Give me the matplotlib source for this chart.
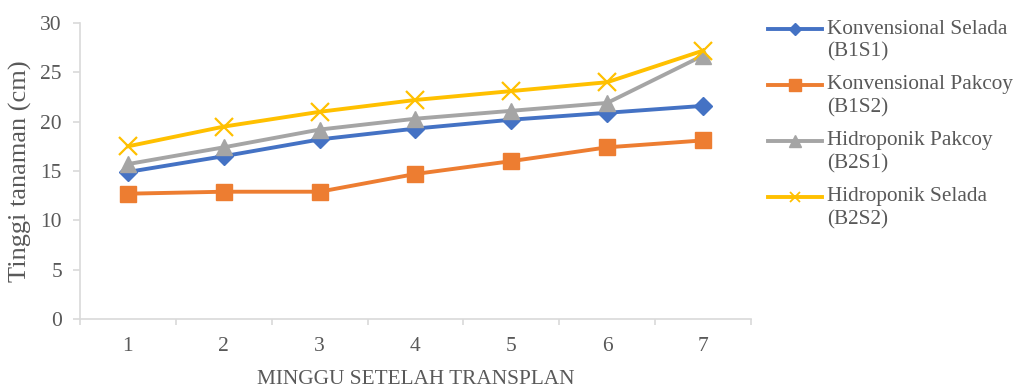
import matplotlib
matplotlib.use("Agg")
import matplotlib.pyplot as plt
from matplotlib.lines import Line2D
from matplotlib.ticker import FixedLocator

plt.rcParams['font.family'] = ['Liberation Serif', 'DejaVu Serif']

weeks = [1, 2, 3, 4, 5, 6, 7]
konvensional_selada = [14.9, 16.5, 18.2, 19.3, 20.2, 20.9, 21.6]
konvensional_pakcoy = [12.7, 12.9, 12.9, 14.7, 16.0, 17.4, 18.1]
hidroponik_pakcoy = [15.7, 17.4, 19.2, 20.3, 21.1, 21.9, 26.7]
hidroponik_selada = [17.5, 19.5, 21.0, 22.2, 23.1, 24.0, 27.2]
series_names = ["Konvensional Selada", "Konvensional Pakcoy",
                "Hidroponik Pakcoy", "Hidroponik Selada"]
series_codes = ["(B1S1)", "(B1S2)", "(B2S1)", "(B2S2)"]
y_ticks = [0, 5, 10, 15, 20, 25, 30]

text_color = "#595959"
axis_color = "#D9D9D9"
W, H = 1014, 392

fig = plt.figure(figsize=(W / 100, H / 100), dpi=100)
ax = fig.add_axes([80 / W, 1 - 319 / H, 671 / W, 296 / H])

styles = [
    dict(color="#4472C4", marker="D", markersize=9),
    dict(color="#ED7D31", marker="s", markersize=11.5),
    dict(color="#A5A5A5", marker="^", markersize=12),
    dict(color="#FFC000", marker="x", markersize=12.5, markeredgewidth=1.6),
]
legend_marker_sizes = [6.5, 8, 8, 7]
data = [konvensional_selada, konvensional_pakcoy, hidroponik_pakcoy, hidroponik_selada]
for vals, st in zip(data, styles):
    ax.plot(weeks, vals, linewidth=2.8, **st)

ax.set_xlim(0.5, 7.5)
ax.set_ylim(0, 30)
ax.set_yticks(y_ticks)
ax.set_xticks(weeks)
ax.xaxis.set_minor_locator(FixedLocator([w - 0.5 for w in weeks] + [7.5]))
ax.tick_params(axis='x', which='major', length=0, pad=13, labelsize=15.5, labelcolor=text_color)
ax.tick_params(axis='x', which='minor', length=4.5, width=1.2, color=axis_color, direction='out')
ax.tick_params(axis='y', which='major', length=5, width=1.2, color=axis_color,
               labelsize=15.5, labelcolor=text_color, pad=8)

for side in ("top", "right"):
    ax.spines[side].set_visible(False)
for side in ("left", "bottom"):
    ax.spines[side].set_color(axis_color)
    ax.spines[side].set_linewidth(1.2)

ax.set_ylabel("Tinggi tanaman (cm)", fontsize=19, color=text_color, labelpad=6)
ax.set_xlabel("MINGGU SETELAH TRANSPLAN", fontsize=15.3, color=text_color, labelpad=10)

# Legend on the right: handle aligned with the first line of each two-line label
for i, (name, code, st, ms) in enumerate(zip(series_names, series_codes, styles, legend_marker_sizes)):
    y_px = 29 + 56 * i
    yf = 1 - y_px / H
    st_leg = dict(st)
    st_leg["markersize"] = ms
    if st_leg["marker"] == "x":
        st_leg["markeredgewidth"] = 1.3
    fig.add_artist(Line2D([768 / W, 795 / W, 822 / W], [yf] * 3, transform=fig.transFigure,
                          linewidth=2.8, markevery=[1], **st_leg))
    fig.text(827 / W, yf, name, fontsize=15.3, color=text_color, va="center", ha="left")
    fig.text(827 / W, 1 - (y_px + 23) / H, code, fontsize=15.3, color=text_color,
             va="center", ha="left")

fig.savefig("out.png", dpi=100)
